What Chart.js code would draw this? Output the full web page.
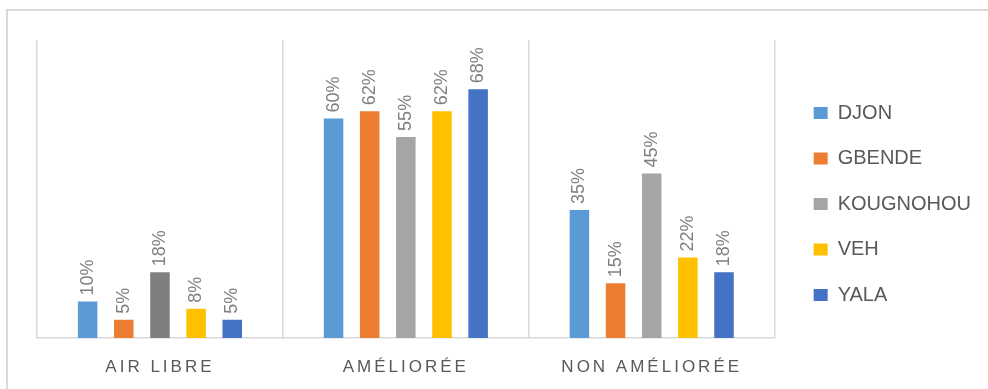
<!DOCTYPE html>
<html>
<head>
<meta charset="utf-8">
<script src="https://cdn.jsdelivr.net/npm/chart.js@4"></script>
<style>
html, body { margin: 0; padding: 0; background: #fff; }
body { width: 988px; height: 389px; position: relative; overflow: hidden; }
#frame { position: absolute; left: 6px; top: 9px; width: 1000px; height: 400px; border: 2px solid #dadada; box-sizing: border-box; }
#wrap { position: absolute; left: 0; top: 0; width: 988px; height: 389px; }
</style>
</head>
<body>
<div id="frame"></div>
<div id="wrap"><canvas id="chart"></canvas></div>
<script>
// categories and series (percent)
const categories = ['AIR LIBRE', 'AMÉLIORÉE', 'NON AMÉLIORÉE'];
const seriesNames = ['DJON', 'GBENDE', 'KOUGNOHOU', 'VEH', 'YALA'];
const djon = [10, 60, 35];
const gbende = [5, 62, 15];
const kougnohou = [18, 55, 45];
const veh = [8, 62, 22];
const yala = [5, 68, 18];

const seriesValues = [djon, gbende, kougnohou, veh, yala];
const barColors = [
    '#5b9bd5',
    '#ed7d31',
    ['#7f7f7f', '#a5a5a5', '#a5a5a5'], // first bar is darker in the original
    '#ffc000',
    '#4472c4'
];
const legendColors = ['#5b9bd5', '#ed7d31', '#a5a5a5', '#ffc000', '#4472c4'];
const FONT = '"Liberation Sans", Arial, sans-serif';

// value labels rotated above each bar, then letter spacing for the x labels
const valueLabels = {
    id: 'valueLabels',
    afterLayout(chart) {
        // keep the legend column a little higher than the full canvas height would put it
        const lg = chart.legend;
        lg.bottom = chart.height - 21;
        lg.height = lg.bottom - lg.top;
    },
    afterDatasetsDraw(chart) {
        const ctx = chart.ctx;
        ctx.save();
        ctx.font = '18px ' + FONT;
        ctx.fillStyle = '#7f7f7f';
        ctx.textAlign = 'left';
        ctx.textBaseline = 'middle';
        chart.data.datasets.forEach((ds, i) => {
            chart.getDatasetMeta(i).data.forEach((bar, j) => {
                ctx.save();
                ctx.translate(bar.x, bar.y - 6);
                ctx.rotate(-Math.PI / 2);
                ctx.fillText(ds.data[j] + '%', 0, 0);
                ctx.restore();
            });
        });
        ctx.restore();
        ctx.letterSpacing = '3px'; // x tick labels are drawn after this (z: 1)
    },
    afterDraw(chart) {
        chart.ctx.letterSpacing = '0px';
    }
};

const ctx = document.getElementById('chart').getContext('2d');
const chart = new Chart(ctx, {
    type: 'bar',
    data: {
        labels: categories,
        datasets: seriesNames.map((name, i) => ({
            label: name,
            data: seriesValues[i],
            backgroundColor: barColors[i],
            borderWidth: 0,
            categoryPercentage: 0.735,
            barPercentage: 0.54
        }))
    },
    options: {
        responsive: true,
        maintainAspectRatio: false,
        animation: false,
        layout: { padding: { top: 40, left: 37, right: 7, bottom: 0 } },
        plugins: {
            tooltip: { enabled: false },
            legend: {
                position: 'right',
                align: 'center',
                labels: {
                    boxWidth: 14,
                    boxHeight: 12,
                    padding: 25.5,
                    color: '#595959',
                    font: { family: FONT, size: 20 },
                    generateLabels(chart) {
                        return chart.data.datasets.map((ds, i) => ({
                            text: ds.label,
                            fillStyle: legendColors[i],
                            strokeStyle: legendColors[i],
                            lineWidth: 0,
                            fontColor: '#595959',
                            hidden: false,
                            datasetIndex: i
                        }));
                    }
                }
            }
        },
        scales: {
            x: {
                grid: { display: true, color: '#d9d9d9', lineWidth: 1.5, drawTicks: false, offset: true },
                border: { display: true, color: '#d9d9d9', width: 1.5 },
                ticks: { color: '#595959', font: { family: FONT, size: 17 }, padding: 19, z: 1 },
                afterFit(scale) { scale.height = 51; }
            },
            y: {
                position: 'right',
                min: 0,
                max: 81.5,
                grid: { display: false },
                border: { display: false },
                ticks: { display: false },
                afterFit(scale) { scale.width = 13.5; }
            }
        }
    },
    plugins: [valueLabels]
});
</script>
</body>
</html>
